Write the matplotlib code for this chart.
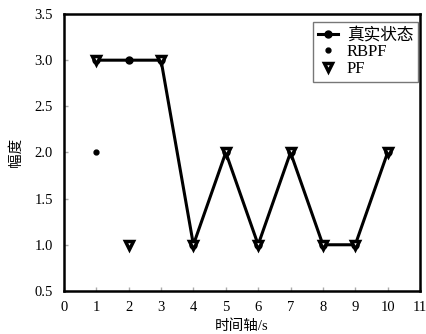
import matplotlib
matplotlib.use('Agg')
import matplotlib.pyplot as plt

t = [1, 2, 3, 4, 5, 6, 7, 8, 9, 10]
true_state = [3, 3, 3, 1, 2, 1, 2, 1, 1, 2]
rbpf = [2, 3, 3, 1, 2, 1, 2, 1, 1, 2]
pf = [3, 1, 3, 1, 2, 1, 2, 1, 1, 2]

plt.rcParams['font.family'] = ['Liberation Serif', 'Noto Sans CJK SC']
plt.rcParams['font.size'] = 10.5

fig = plt.figure(figsize=(4.26, 3.34), dpi=100)
ax = fig.add_axes([0.150, 0.129, 0.836, 0.829])

ax.plot(t, true_state, '-o', color='black', lw=2.2, ms=5, label='真实状态')
ax.plot(t, rbpf, '.', color='black', ms=7, label='RBPF')
ax.plot(t, pf, 'v', color='black', mfc='white', mew=2.5, ms=6, label='PF')

ax.set_xlim(0, 11)
ax.set_ylim(0.5, 3.5)
ax.set_xticks(range(0, 12))
ax.set_yticks([0.5, 1.0, 1.5, 2.0, 2.5, 3.0, 3.5])
ax.set_yticklabels(['0.5', '1.0', '1.5', '2.0', '2.5', '3.0', '3.5'])
ax.tick_params(direction='in', length=3, color='#aaaaaa', width=1)
ax.tick_params(axis='x', pad=7)
ax.tick_params(axis='y', pad=8)
for s in ax.spines.values():
    s.set_linewidth(1.8)

ax.set_xlabel('时间轴/s', labelpad=4)
ax.set_ylabel('幅度', labelpad=8)

leg = ax.legend(loc='upper right', fancybox=False, edgecolor='#555555',
                fontsize=12, handlelength=1.2, handletextpad=0.5,
                borderpad=0.3, labelspacing=0.05, borderaxespad=0,
                bbox_to_anchor=(0.995, 0.97))
leg.get_frame().set_linewidth(1.0)

fig.savefig('out.png', dpi=100)
